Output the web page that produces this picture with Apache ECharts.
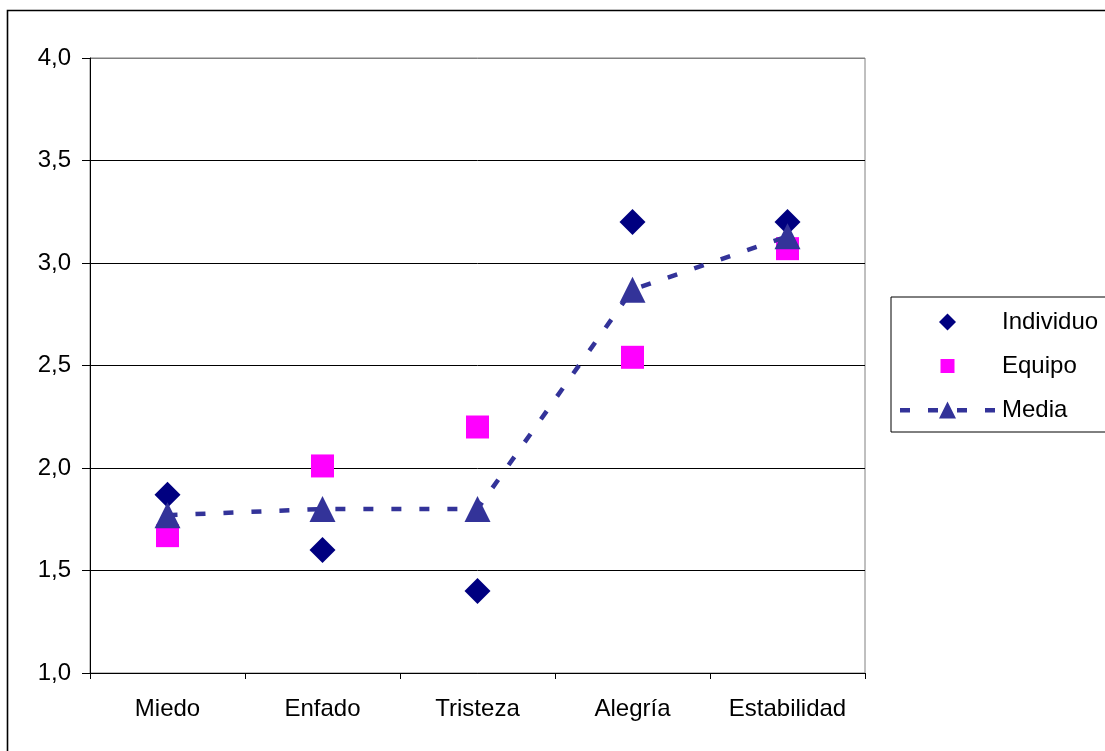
<!DOCTYPE html>
<html>
<head>
<meta charset="utf-8">
<script src="https://cdn.jsdelivr.net/npm/echarts@6/dist/echarts.min.js"></script>
<style>
  html, body { margin: 0; padding: 0; background: #fff; }
  #chart { width: 1105px; height: 751px; }
</style>
</head>
<body>
<div id="chart"></div>
<script>
// Emotional dimensions on the x axis
const categories = ['Miedo', 'Enfado', 'Tristeza', 'Alegría', 'Estabilidad'];
// Scores per dimension
const individuo = [1.87, 1.60, 1.40, 3.20, 3.20];
const equipo = [1.67, 2.01, 2.20, 2.54, 3.07];
const media = [1.77, 1.80, 1.80, 2.87, 3.13];
// Value axis range
const yMin = 1.0, yMax = 4.0, yStep = 0.5;

const FONT = 'Liberation Sans, Arial, sans-serif';
const fmt = v => v.toFixed(1).replace('.', ',');

// Legend icons: diamond, small square, and a dashed line with a triangle
const ICON_DIAMOND = 'path://M8.5,0L17,8.5L8.5,17L0,8.5Z';
const ICON_SQUARE = 'path://M0,0M17,17M1.5,1.5h14v14h-14z';
const ICON_MEDIA = 'path://M0,6.5h10v4.5h-10z M28,6.5h10v4.5h-10z M57,6.5h10v4.5h-10z M85,6.5h10v4.5h-10z M47.5,0L56,17L39,17Z';

const chart = echarts.init(document.getElementById('chart'), null, { renderer: 'canvas' });

chart.setOption({
  animation: false,
  backgroundColor: '#fff',
  textStyle: { fontFamily: FONT },
  graphic: [{
    type: 'rect',
    shape: { x: 7.5, y: 10.5, width: 1200, height: 800 },
    style: { fill: 'none', stroke: '#000', lineWidth: 1.6 },
    silent: true, z: 0
  }],
  grid: {
    left: 90, top: 58, right: 240, bottom: 78,
    show: true, borderColor: '#808080', borderWidth: 1, backgroundColor: 'transparent'
  },
  legend: {
    orient: 'vertical',
    left: 891, top: 297,
    padding: [13, 20, 10, 9],
    itemGap: 20,
    itemWidth: 95, itemHeight: 17,
    borderColor: '#000', borderWidth: 1,
    backgroundColor: '#fff',
    textStyle: { fontFamily: FONT, fontSize: 24, color: '#000', lineHeight: 24, padding: [0, 0, 0, 2] },
    data: [
      { name: 'Individuo', icon: ICON_DIAMOND },
      { name: 'Equipo', icon: ICON_SQUARE },
      { name: 'Media', icon: ICON_MEDIA }
    ]
  },
  xAxis: {
    type: 'category',
    data: categories,
    boundaryGap: true,
    axisLine: { lineStyle: { color: '#000', width: 1 } },
    axisTick: { show: true, length: 6, lineStyle: { color: '#000' } },
    axisLabel: { color: '#000', fontSize: 24, fontFamily: FONT, margin: 24 },
    splitLine: { show: false }
  },
  yAxis: {
    type: 'value',
    min: yMin, max: yMax, interval: yStep,
    axisLine: { show: true, lineStyle: { color: '#000', width: 1 } },
    axisTick: { show: true, length: 8, lineStyle: { color: '#000' } },
    axisLabel: { color: '#000', fontSize: 24, fontFamily: FONT, margin: 19, formatter: fmt },
    splitLine: {
      show: true,
      lineStyle: { color: ['#000', '#000', '#000', '#000', '#000', '#000', '#808080'], width: 1 }
    }
  },
  series: [
    {
      name: 'Individuo', type: 'scatter', data: individuo,
      symbol: 'diamond', symbolSize: 26,
      itemStyle: { color: '#000080', opacity: 1 }, z: 2
    },
    {
      name: 'Equipo', type: 'scatter', data: equipo,
      symbol: 'rect', symbolSize: 23,
      itemStyle: { color: '#FF00FF', opacity: 1 }, z: 3
    },
    {
      name: 'Media', type: 'line', data: media,
      symbol: 'triangle', symbolSize: 26, showAllSymbol: true,
      lineStyle: { color: '#333399', width: 4.5, type: [10, 18] },
      itemStyle: { color: '#333399', borderWidth: 0 }, z: 4
    }
  ]
});
</script>
</body>
</html>
